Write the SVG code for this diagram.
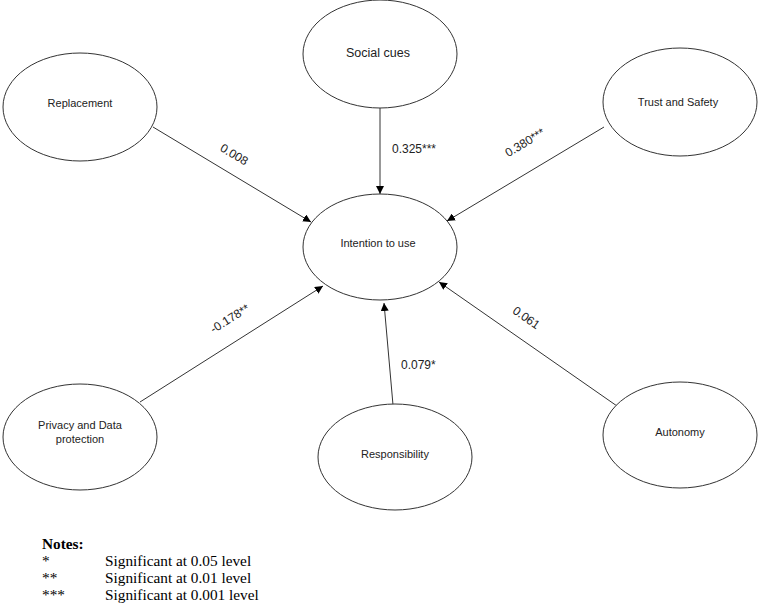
<svg xmlns="http://www.w3.org/2000/svg" width="759" height="606" viewBox="0 0 759 606">
<style>
.n ellipse{fill:#fff;stroke:#333;stroke-width:1}
.n text{font-family:"Liberation Sans",Arial,sans-serif;font-size:11px;fill:#222;text-anchor:middle}
.c line{stroke:#333;stroke-width:1;marker-end:url(#ah)}
.lbl{font-family:"Liberation Sans",Arial,sans-serif;font-size:12px;fill:#222;text-anchor:middle}
.note{font-family:"Liberation Serif","Times New Roman",serif;font-size:15.3px;fill:#000}
</style>
<defs>
<marker id="ah" viewBox="0 0 10 10" refX="10" refY="5" markerWidth="8" markerHeight="8" markerUnits="userSpaceOnUse" orient="auto">
<path d="M0,0 L10,5 L0,10 z" fill="#000"/>
</marker>
</defs>
<rect width="759" height="606" fill="#fff"/>
<g class="c" id="connectors">
<line x1="153" y1="127" x2="311" y2="222"/>
<line x1="380" y1="108" x2="380" y2="194"/>
<line x1="604" y1="127" x2="447" y2="221"/>
<line x1="140" y1="402" x2="323" y2="286"/>
<line x1="393" y1="405" x2="384" y2="303"/>
<line x1="617" y1="406" x2="439" y2="282"/>
</g>
<g id="labels">
<text class="lbl" transform="translate(232,158) rotate(31)">0.008</text>
<text class="lbl" x="392" y="153" style="text-anchor:start">0.325***</text>
<text class="lbl" transform="translate(527,146) rotate(-31)">0.380***</text>
<text class="lbl" transform="translate(232,322) rotate(-32)">-0.178**</text>
<text class="lbl" x="401" y="369" style="text-anchor:start">0.079*</text>
<text class="lbl" transform="translate(524,321) rotate(35)">0.061</text>
</g>
<g class="n" id="replacement"><ellipse cx="80" cy="107" rx="77" ry="54"/><text x="80" y="107">Replacement</text></g>
<g class="n" id="social-cues"><ellipse cx="380" cy="54" rx="77" ry="54"/><text x="378" y="57" style="font-size:12.5px">Social cues</text></g>
<g class="n" id="trust-safety"><ellipse cx="680" cy="102" rx="77" ry="54"/><text x="678" y="106">Trust and Safety</text></g>
<g class="n" id="intention"><ellipse cx="380" cy="247" rx="77" ry="53"/><text x="378" y="247">Intention to use</text></g>
<g class="n" id="privacy"><ellipse cx="80" cy="437" rx="77" ry="53"/><text x="80" y="429">Privacy and Data</text><text x="80" y="443">protection</text></g>
<g class="n" id="responsibility"><ellipse cx="395" cy="457" rx="77" ry="53"/><text x="395" y="458">Responsibility</text></g>
<g class="n" id="autonomy"><ellipse cx="680" cy="435" rx="77" ry="53"/><text x="680" y="436">Autonomy</text></g>
<g id="notes">
<text class="note" x="42" y="549" font-weight="bold">Notes:</text>
<text class="note" x="42" y="566">*</text><text class="note" x="105" y="566">Significant at 0.05 level</text>
<text class="note" x="42" y="583">**</text><text class="note" x="105" y="583">Significant at 0.01 level</text>
<text class="note" x="42" y="600">***</text><text class="note" x="105" y="600">Significant at 0.001 level</text>
</g>
</svg>
